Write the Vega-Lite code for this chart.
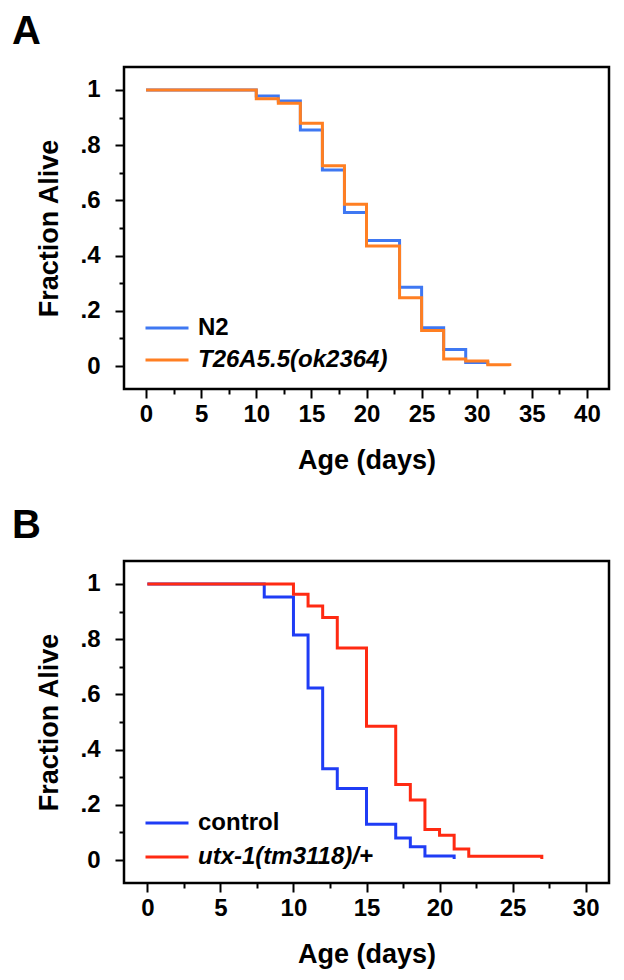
{
  "$schema": "https://vega.github.io/schema/vega-lite/v6.json",
  "padding": {"left": 10, "top": 10, "right": 10, "bottom": 5},
  "background": "white",
  "config": {
    "font": "Liberation Sans",
    "view": {"stroke": "black", "strokeWidth": 2.5},
    "axis": {
      "labelFont": "Liberation Sans", "labelFontWeight": "bold", "labelFontSize": 24, "labelColor": "black",
      "titleFont": "Liberation Sans", "titleFontWeight": "bold", "titleFontSize": 27, "titleColor": "black",
      "tickColor": "black", "tickWidth": 2, "grid": false, "domain": false
    },
    "concat": {"spacing": 29}
  },
  "resolve": {"scale": {"color": "independent"}, "legend": {"color": "independent"}},
  "vconcat": [
    {
      "width": 485, "height": 322,
      "title": {"text": "A", "anchor": "start", "frame": "group", "fontSize": 40, "fontWeight": "bold", "font": "Liberation Sans", "color": "black", "dx": -112, "offset": -17, "baseline": "alphabetic"},
      "data": {"values": [
        {"day": 0, "alive": 1.0, "strain": "N2"},
        {"day": 10, "alive": 0.978, "strain": "N2"},
        {"day": 12, "alive": 0.96, "strain": "N2"},
        {"day": 14, "alive": 0.855, "strain": "N2"},
        {"day": 16, "alive": 0.71, "strain": "N2"},
        {"day": 18, "alive": 0.556, "strain": "N2"},
        {"day": 20, "alive": 0.455, "strain": "N2"},
        {"day": 23, "alive": 0.285, "strain": "N2"},
        {"day": 25, "alive": 0.139, "strain": "N2"},
        {"day": 27, "alive": 0.06, "strain": "N2"},
        {"day": 29, "alive": 0.013, "strain": "N2"},
        {"day": 31, "alive": 0.005, "strain": "N2"},
        {"day": 0, "alive": 1.0, "strain": "T26A5.5(ok2364)"},
        {"day": 10, "alive": 0.968, "strain": "T26A5.5(ok2364)"},
        {"day": 12, "alive": 0.952, "strain": "T26A5.5(ok2364)"},
        {"day": 14, "alive": 0.879, "strain": "T26A5.5(ok2364)"},
        {"day": 16, "alive": 0.725, "strain": "T26A5.5(ok2364)"},
        {"day": 18, "alive": 0.586, "strain": "T26A5.5(ok2364)"},
        {"day": 20, "alive": 0.435, "strain": "T26A5.5(ok2364)"},
        {"day": 23, "alive": 0.247, "strain": "T26A5.5(ok2364)"},
        {"day": 25, "alive": 0.129, "strain": "T26A5.5(ok2364)"},
        {"day": 27, "alive": 0.026, "strain": "T26A5.5(ok2364)"},
        {"day": 29, "alive": 0.018, "strain": "T26A5.5(ok2364)"},
        {"day": 31, "alive": 0.005, "strain": "T26A5.5(ok2364)"},
        {"day": 33, "alive": 0.0, "strain": "T26A5.5(ok2364)"}
      ]},
      "layer": [
        {
          "mark": {"type": "line", "interpolate": "step-after", "strokeWidth": 3},
          "encoding": {
            "x": {"field": "day", "type": "quantitative", "scale": {"domain": [-2, 42], "nice": false, "zero": false},
              "axis": {"orient": "bottom", "values": [0, 5, 10, 15, 20, 25, 30, 35, 40], "tickSize": 9, "labelPadding": 4, "title": "Age (days)", "titlePadding": 21}},
            "y": {"field": "alive", "type": "quantitative", "scale": {"domain": [-0.083, 1.083], "nice": false, "zero": false},
              "axis": {"orient": "left", "values": [0, 0.2, 0.4, 0.6, 0.8, 1], "tickSize": 9, "labelPadding": 15, "title": "Fraction Alive", "titlePadding": 16,
                "labelExpr": "datum.value == 0 ? '0' : datum.value == 1 ? '1' : replace(format(datum.value, '.1f'), '0.', '.')"}},
            "color": {"field": "strain", "type": "nominal",
              "scale": {"domain": ["N2", "T26A5.5(ok2364)"], "range": ["#3f78f2", "#ff7f22"]},
              "legend": {"orient": "none", "legendX": 20, "legendY": 246, "title": null, "symbolType": "stroke", "symbolSize": 1849, "symbolStrokeWidth": 3, "clipHeight": 30,
                "labelFont": "Liberation Sans", "labelFontWeight": "bold", "labelFontSize": 24, "labelColor": "black", "labelOffset": 8, "rowPadding": 2, "labelLimit": 400,
                "encode": {"labels": {"update": {"fontStyle": {"signal": "datum.label == 'N2' ? 'normal' : 'italic'"}}}}}}
          }
        },
        {
          "mark": {"type": "point", "opacity": 0},
          "encoding": {
            "x": {"field": "day", "type": "quantitative", "axis": {"orient": "bottom", "values": [2.5, 7.5, 12.5, 17.5, 22.5, 27.5, 32.5, 37.5], "tickSize": 5, "labels": false, "title": null}},
            "y": {"field": "alive", "type": "quantitative", "axis": {"orient": "left", "values": [0.1, 0.3, 0.5, 0.7, 0.9], "tickSize": 5, "labels": false, "title": null}}
          }
        }
      ],
      "resolve": {"axis": {"x": "independent", "y": "independent"}}
    },
    {
      "width": 485, "height": 322,
      "title": {"text": "B", "anchor": "start", "frame": "group", "fontSize": 40, "fontWeight": "bold", "font": "Liberation Sans", "color": "black", "dx": -112, "offset": -17, "baseline": "alphabetic"},
      "data": {"values": [
        {"day": 0, "alive": 1.0, "strain": "control"},
        {"day": 8, "alive": 0.953, "strain": "control"},
        {"day": 10, "alive": 0.815, "strain": "control"},
        {"day": 11, "alive": 0.623, "strain": "control"},
        {"day": 12, "alive": 0.331, "strain": "control"},
        {"day": 13, "alive": 0.259, "strain": "control"},
        {"day": 15, "alive": 0.13, "strain": "control"},
        {"day": 17, "alive": 0.08, "strain": "control"},
        {"day": 18, "alive": 0.048, "strain": "control"},
        {"day": 19, "alive": 0.015, "strain": "control"},
        {"day": 21, "alive": 0.004, "strain": "control"},
        {"day": 0, "alive": 1.0, "strain": "utx-1(tm3118)/+"},
        {"day": 10, "alive": 0.963, "strain": "utx-1(tm3118)/+"},
        {"day": 11, "alive": 0.92, "strain": "utx-1(tm3118)/+"},
        {"day": 12, "alive": 0.878, "strain": "utx-1(tm3118)/+"},
        {"day": 13, "alive": 0.768, "strain": "utx-1(tm3118)/+"},
        {"day": 15, "alive": 0.485, "strain": "utx-1(tm3118)/+"},
        {"day": 17, "alive": 0.274, "strain": "utx-1(tm3118)/+"},
        {"day": 18, "alive": 0.218, "strain": "utx-1(tm3118)/+"},
        {"day": 19, "alive": 0.111, "strain": "utx-1(tm3118)/+"},
        {"day": 20, "alive": 0.09, "strain": "utx-1(tm3118)/+"},
        {"day": 21, "alive": 0.04, "strain": "utx-1(tm3118)/+"},
        {"day": 22, "alive": 0.014, "strain": "utx-1(tm3118)/+"},
        {"day": 27, "alive": 0.004, "strain": "utx-1(tm3118)/+"}
      ]},
      "layer": [
        {
          "mark": {"type": "line", "interpolate": "step-after", "strokeWidth": 3},
          "encoding": {
            "x": {"field": "day", "type": "quantitative", "scale": {"domain": [-1.6, 31.6], "nice": false, "zero": false},
              "axis": {"orient": "bottom", "values": [0, 5, 10, 15, 20, 25, 30], "tickSize": 9, "labelPadding": 4, "title": "Age (days)", "titlePadding": 21}},
            "y": {"field": "alive", "type": "quantitative", "scale": {"domain": [-0.083, 1.083], "nice": false, "zero": false},
              "axis": {"orient": "left", "values": [0, 0.2, 0.4, 0.6, 0.8, 1], "tickSize": 9, "labelPadding": 15, "title": "Fraction Alive", "titlePadding": 16,
                "labelExpr": "datum.value == 0 ? '0' : datum.value == 1 ? '1' : replace(format(datum.value, '.1f'), '0.', '.')"}},
            "color": {"field": "strain", "type": "nominal",
              "scale": {"domain": ["control", "utx-1(tm3118)/+"], "range": ["#1f3cf5", "#ff2a12"]},
              "legend": {"orient": "none", "legendX": 20, "legendY": 247, "title": null, "symbolType": "stroke", "symbolSize": 1849, "symbolStrokeWidth": 3, "clipHeight": 30,
                "labelFont": "Liberation Sans", "labelFontWeight": "bold", "labelFontSize": 24, "labelColor": "black", "labelOffset": 8, "rowPadding": 4, "labelLimit": 400,
                "encode": {"labels": {"update": {"fontStyle": {"signal": "datum.label == 'control' ? 'normal' : 'italic'"}}}}}}
          }
        },
        {
          "mark": {"type": "point", "opacity": 0},
          "encoding": {
            "x": {"field": "day", "type": "quantitative", "axis": {"orient": "bottom", "values": [2.5, 7.5, 12.5, 17.5, 22.5, 27.5], "tickSize": 5, "labels": false, "title": null}},
            "y": {"field": "alive", "type": "quantitative", "axis": {"orient": "left", "values": [0.1, 0.3, 0.5, 0.7, 0.9], "tickSize": 5, "labels": false, "title": null}}
          }
        }
      ],
      "resolve": {"axis": {"x": "independent", "y": "independent"}}
    }
  ]
}
